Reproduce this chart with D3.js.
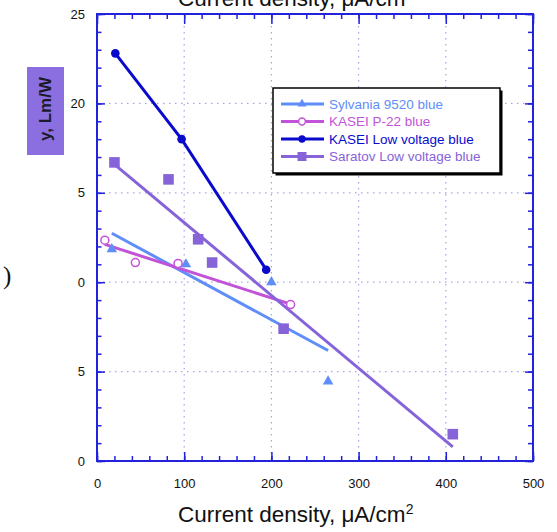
<!DOCTYPE html>
<meta charset="utf-8">
<style>

body {
  margin: 0;
  background: #fff;
}

text {
  font-family: Arial, "Liberation Sans", sans-serif;
}

.grid line {
  stroke: #a9a3ee;
  stroke-width: 1.2px;
  stroke-dasharray: 1.5,4.5;
}

</style>
<body>
<script src="https://cdn.jsdelivr.net/npm/d3@7"></script>
<script>

// values (x: current density uA/cm2, y: efficiency Lm/W)
var seriesNames = ["Sylvania 9520 blue", "KASEI P-22 blue", "KASEI Low voltage blue", "Saratov Low voltage blue"];

var sylvaniaX = [17, 102, 200, 265],
    sylvaniaY = [11.85, 11.0, 10.0, 4.45];

var kaseiP22X = [9, 44, 93, 222],
    kaseiP22Y = [12.35, 11.1, 11.05, 8.75];

var kaseiLvX = [21, 97, 194],
    kaseiLvY = [22.8, 18.0, 10.7];

var saratovX = [20, 82, 116, 132, 214, 408],
    saratovY = [16.7, 15.75, 12.4, 11.1, 7.4, 1.5];

var xTicks = [0, 100, 200, 300, 400, 500],
    yTicks = [0, 5, 10, 15, 20, 25],
    yTickLabels = ["0", "5", "0", "5", "20", "25"];   // left labels are cut in the picture

var w = 557,
    h = 532,
    axisColor = "#2222dd";

var colors = ["#5f8ef8", "#c253d8", "#0a0acc", "#8663d9"];

var x = d3.scaleLinear().domain([0, 500]).range([97, 533]);
var y = d3.scaleLinear().domain([0, 25]).range([461, 14]);

var svg = d3.select("body").append("svg")
    .attr("width", w)
    .attr("height", h);

// grid
var grid = svg.append("g").attr("class", "grid");
grid.selectAll(".gx")
    .data(xTicks.slice(1, -1))
  .enter().append("line")
    .attr("x1", x).attr("x2", x)
    .attr("y1", y(25)).attr("y2", y(0));
grid.selectAll(".gy")
    .data(yTicks.slice(1, -1))
  .enter().append("line")
    .attr("x1", x(0)).attr("x2", x(500))
    .attr("y1", y).attr("y2", y);

// axes: ticks pointing inside on all four sides
function styleAxis(g) {
  g.select(".domain").remove();
  g.selectAll("line").attr("stroke", axisColor).attr("stroke-width", 1.5);
  g.selectAll("text").attr("fill", "#111").style("font-size", "13px").style("font-family", "Arial, 'Liberation Sans', sans-serif");
}

var xMinor = d3.range(0, 501, 20),
    yMinor = d3.range(0, 26, 1);

svg.append("g")
    .attr("transform", "translate(0," + y(0) + ")")
    .call(d3.axisBottom(x).tickValues(xMinor).tickSize(-5).tickFormat(""))
    .call(styleAxis);
svg.append("g")
    .attr("transform", "translate(0," + y(0) + ")")
    .call(d3.axisBottom(x).tickValues(xTicks).tickSize(-9).tickPadding(18).tickFormat(d3.format("d")))
    .call(styleAxis);

svg.append("g")
    .attr("transform", "translate(0," + y(25) + ")")
    .call(d3.axisTop(x).tickValues(xMinor).tickSize(-5).tickFormat(""))
    .call(styleAxis);
svg.append("g")
    .attr("transform", "translate(0," + y(25) + ")")
    .call(d3.axisTop(x).tickValues(xTicks).tickSize(-10).tickFormat(""))
    .call(styleAxis);

svg.append("g")
    .attr("transform", "translate(" + x(0) + ",0)")
    .call(d3.axisLeft(y).tickValues(yMinor).tickSize(-4.5).tickFormat(""))
    .call(styleAxis);
svg.append("g")
    .attr("transform", "translate(" + x(0) + ",0)")
    .call(d3.axisLeft(y).tickValues(yTicks).tickSize(-8).tickPadding(12)
      .tickFormat(function(d, i) { return yTickLabels[i]; }))
    .call(styleAxis);

svg.append("g")
    .attr("transform", "translate(" + x(500) + ",0)")
    .call(d3.axisRight(y).tickValues(yMinor).tickSize(-5).tickFormat(""))
    .call(styleAxis);
svg.append("g")
    .attr("transform", "translate(" + x(500) + ",0)")
    .call(d3.axisRight(y).tickValues(yTicks).tickSize(-8).tickFormat(""))
    .call(styleAxis);

// frame
svg.append("rect")
    .attr("x", x(0)).attr("y", y(25))
    .attr("width", x(500) - x(0)).attr("height", y(0) - y(25))
    .attr("fill", "none")
    .attr("stroke", axisColor)
    .attr("stroke-width", 2);

// least squares fit drawn from first to last x
function fit(xs, ys) {
  var mx = d3.mean(xs), my = d3.mean(ys), sxx = 0, sxy = 0;
  xs.forEach(function(v, i) { sxx += (v - mx) * (v - mx); sxy += (v - mx) * (ys[i] - my); });
  var b = sxy / sxx, a = my - b * mx;
  var x0 = d3.min(xs), x1 = d3.max(xs);
  return [[x0, a + b * x0], [x1, a + b * x1]];
}

var line = d3.line()
    .x(function(d) { return x(d[0]); })
    .y(function(d) { return y(d[1]); });

function pts(xs, ys) {
  return xs.map(function(v, i) { return [v, ys[i]]; });
}

var fitLines = [
  fit(sylvaniaX, sylvaniaY),
  fit(kaseiP22X, kaseiP22Y),
  pts(kaseiLvX, kaseiLvY),
  fit(saratovX, saratovY)
];

svg.selectAll(".fit")
    .data(fitLines)
  .enter().append("path")
    .attr("class", "fit")
    .attr("d", line)
    .attr("fill", "none")
    .attr("stroke", function(d, i) { return colors[i]; })
    .attr("stroke-width", 3);

// markers
var triangle = d3.symbol().type(d3.symbolTriangle).size(48);
var square = d3.symbol().type(d3.symbolSquare).size(112);

function drawMarker(g, kind, color, small) {
  var k = small ? 0.85 : 1;
  if (kind == 0) {
    g.append("path").attr("d", triangle.size(48 * k * k)()).attr("fill", color);
  } else if (kind == 1) {
    g.append("circle").attr("r", 4 * k).attr("fill", "#fff").attr("stroke", color).attr("stroke-width", 1.5);
  } else if (kind == 2) {
    g.append("circle").attr("r", 4.3 * k).attr("fill", color);
  } else {
    g.append("path").attr("d", square.size(112 * k * k)()).attr("fill", color);
  }
}

[pts(sylvaniaX, sylvaniaY), pts(kaseiP22X, kaseiP22Y), pts(kaseiLvX, kaseiLvY), pts(saratovX, saratovY)]
  .forEach(function(data, s) {
    data.forEach(function(d) {
      var g = svg.append("g").attr("transform", "translate(" + x(d[0]) + "," + y(d[1]) + ")");
      drawMarker(g, s, colors[s], false);
    });
  });

// legend
var legend = svg.append("g").attr("transform", "translate(273,88)");
legend.append("rect")
    .attr("x", 2.5).attr("y", 2.5)
    .attr("width", 227).attr("height", 85)
    .attr("fill", "#000");
legend.append("rect")
    .attr("width", 227).attr("height", 85)
    .attr("fill", "#fff")
    .attr("stroke", "#000")
    .attr("stroke-width", 1.5);

seriesNames.forEach(function(name, i) {
  var row = legend.append("g").attr("transform", "translate(0," + (16 + i * 17.5) + ")");
  row.append("line")
      .attr("x1", 8).attr("x2", 51)
      .attr("stroke", colors[i])
      .attr("stroke-width", 3);
  drawMarker(row.append("g").attr("transform", "translate(29,0)"), i, colors[i], true);
  row.append("text")
      .attr("x", 56).attr("dy", "0.36em")
      .attr("fill", colors[i])
      .style("font-size", "13.5px")
      .text(name);
});

// axis titles (the top one is cut by the page edge, as in the picture)
function densityTitle(yPos) {
  var t = svg.append("text")
      .attr("x", 178).attr("y", yPos)
      .attr("fill", "#111")
      .style("font-size", "22.5px")
      .text("Current density, \u03bcA/cm");
  t.append("tspan")
      .attr("dy", "-0.6em")
      .style("font-size", "14px")
      .text("2");
}
densityTitle(6);
densityTitle(522);

// cut y title in a purple box
svg.append("rect")
    .attr("x", 27).attr("y", 67)
    .attr("width", 37).attr("height", 88)
    .attr("fill", "#8b6fe0");
svg.append("text")
    .attr("transform", "translate(51,77) rotate(-90)")
    .attr("text-anchor", "end")
    .attr("fill", "#1a1a2a")
    .style("font-size", "17px")
    .style("font-weight", "bold")
    .text("y, Lm/W");

svg.append("text")
    .attr("x", 3).attr("y", 284)
    .attr("fill", "#111")
    .style("font-family", "'Liberation Serif', serif")
    .style("font-size", "25px")
    .text(")");

</script>
